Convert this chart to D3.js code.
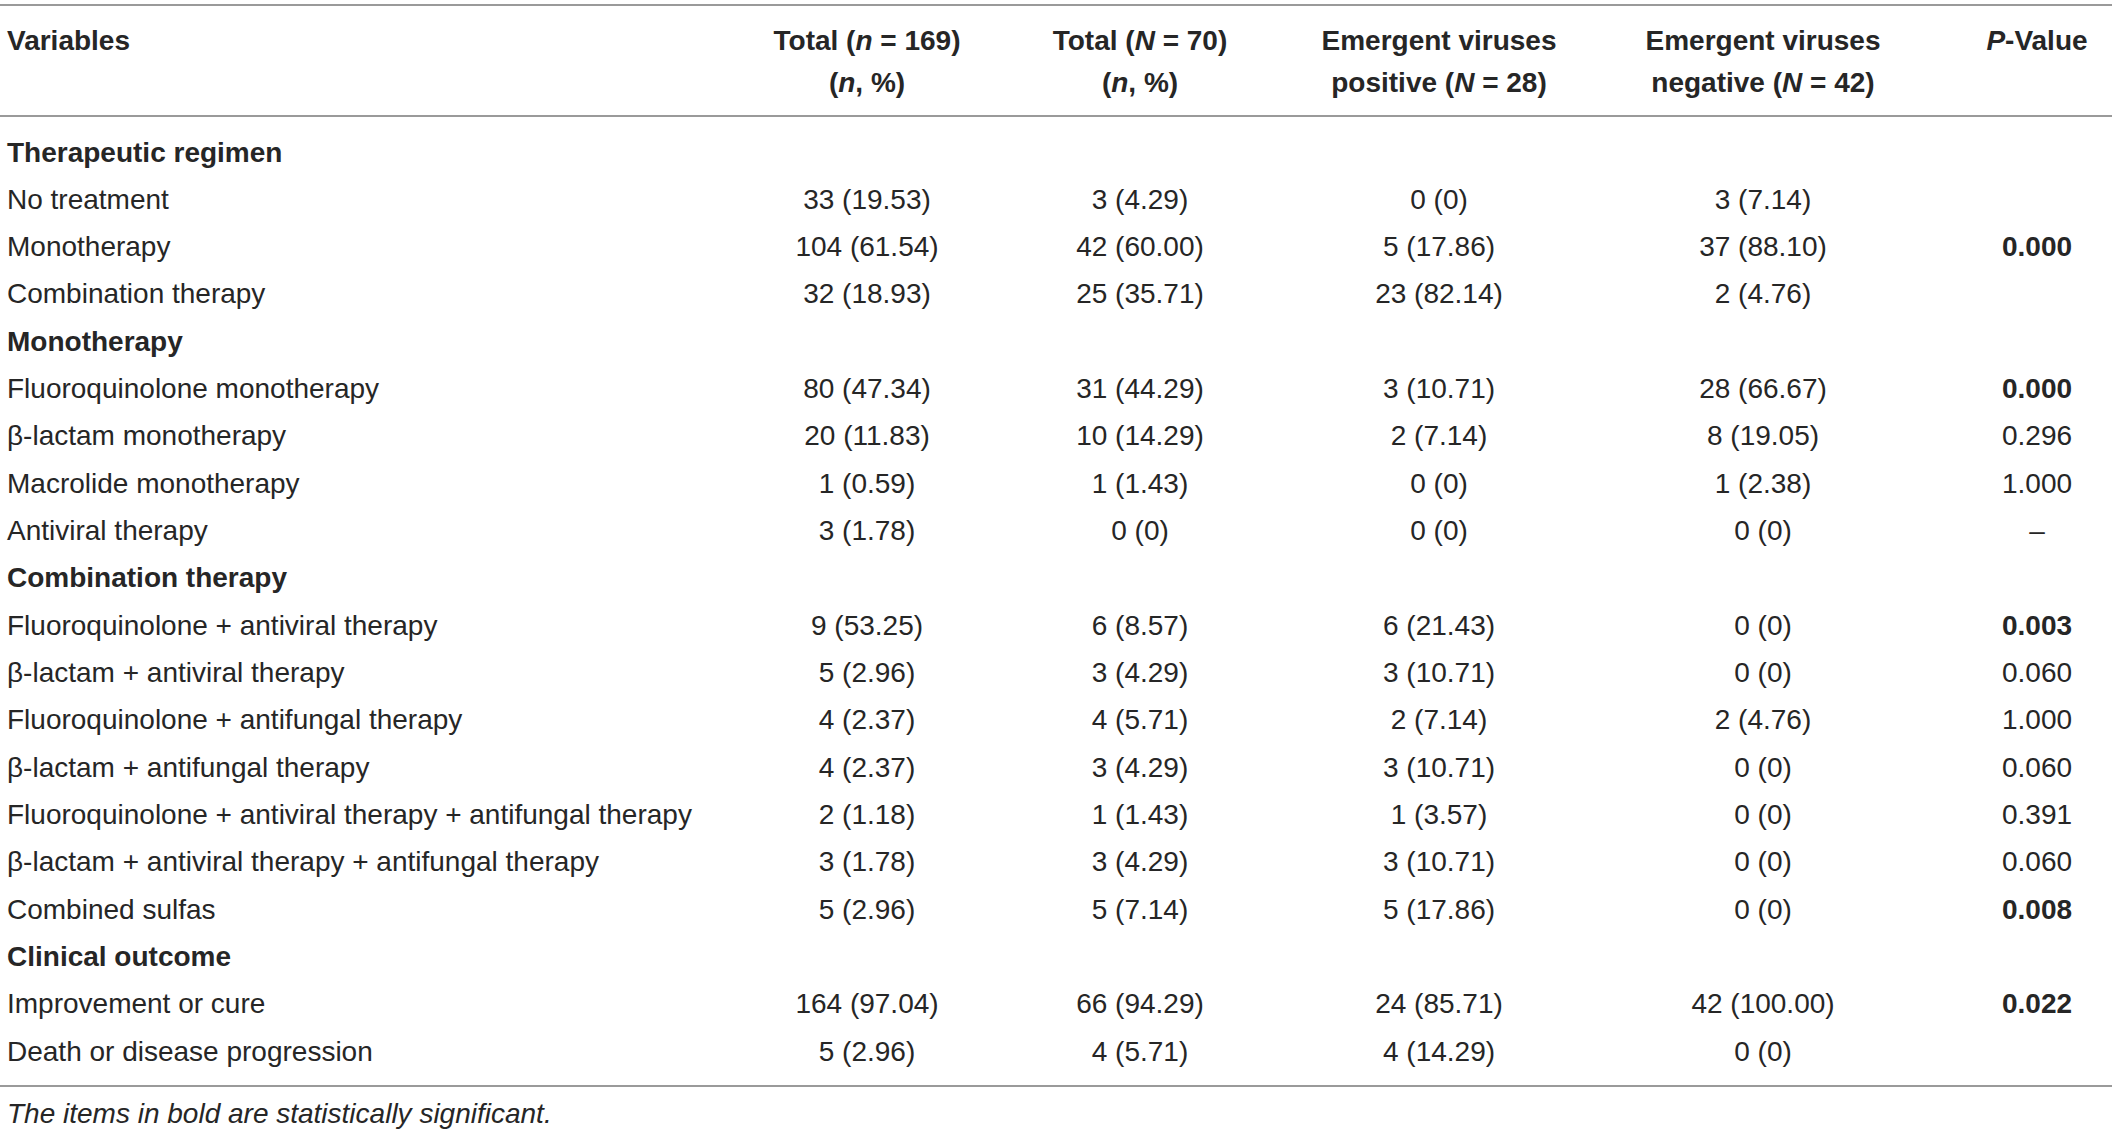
<!DOCTYPE html>
<html>
<head>
<meta charset="utf-8">
<script src="https://cdn.jsdelivr.net/npm/d3@7"></script>
<style>
  body { margin: 0; background: #fff; }
  text { font-family: "Liberation Sans", Arial, sans-serif; fill: #262626; }
</style>
</head>
<body>
<div id="table"></div>
<script>
const width = 2118;
const height = 1135;

// 表头 (每段: 文字, 是否斜体)
const headers = [
  { key: "label", lines: [[["Variables", false]], []] },
  { key: "total169", lines: [[["Total (", false], ["n", true], [" = 169)", false]], [["(", false], ["n", true], [", %)", false]]] },
  { key: "total70", lines: [[["Total (", false], ["N", true], [" = 70)", false]], [["(", false], ["n", true], [", %)", false]]] },
  { key: "positive", lines: [[["Emergent viruses", false]], [["positive (", false], ["N", true], [" = 28)", false]]] },
  { key: "negative", lines: [[["Emergent viruses", false]], [["negative (", false], ["N", true], [" = 42)", false]]] },
  { key: "pValue", lines: [[["P", true], ["-Value", false]], []] }
];

const rowLabels = [
  "Therapeutic regimen", "No treatment", "Monotherapy", "Combination therapy",
  "Monotherapy", "Fluoroquinolone monotherapy", "β-lactam monotherapy", "Macrolide monotherapy", "Antiviral therapy",
  "Combination therapy", "Fluoroquinolone + antiviral therapy", "β-lactam + antiviral therapy",
  "Fluoroquinolone + antifungal therapy", "β-lactam + antifungal therapy",
  "Fluoroquinolone + antiviral therapy + antifungal therapy", "β-lactam + antiviral therapy + antifungal therapy",
  "Combined sulfas", "Clinical outcome", "Improvement or cure", "Death or disease progression"
];
const sectionRows = [0, 4, 9, 17];

const total169 = ["", "33 (19.53)", "104 (61.54)", "32 (18.93)", "", "80 (47.34)", "20 (11.83)", "1 (0.59)", "3 (1.78)", "",
  "9 (53.25)", "5 (2.96)", "4 (2.37)", "4 (2.37)", "2 (1.18)", "3 (1.78)", "5 (2.96)", "", "164 (97.04)", "5 (2.96)"];
const total70 = ["", "3 (4.29)", "42 (60.00)", "25 (35.71)", "", "31 (44.29)", "10 (14.29)", "1 (1.43)", "0 (0)", "",
  "6 (8.57)", "3 (4.29)", "4 (5.71)", "3 (4.29)", "1 (1.43)", "3 (4.29)", "5 (7.14)", "", "66 (94.29)", "4 (5.71)"];
const positive = ["", "0 (0)", "5 (17.86)", "23 (82.14)", "", "3 (10.71)", "2 (7.14)", "0 (0)", "0 (0)", "",
  "6 (21.43)", "3 (10.71)", "2 (7.14)", "3 (10.71)", "1 (3.57)", "3 (10.71)", "5 (17.86)", "", "24 (85.71)", "4 (14.29)"];
const negative = ["", "3 (7.14)", "37 (88.10)", "2 (4.76)", "", "28 (66.67)", "8 (19.05)", "1 (2.38)", "0 (0)", "",
  "0 (0)", "0 (0)", "2 (4.76)", "0 (0)", "0 (0)", "0 (0)", "0 (0)", "", "42 (100.00)", "0 (0)"];
const pValues = ["", "", "0.000", "", "", "0.000", "0.296", "1.000", "–", "",
  "0.003", "0.060", "1.000", "0.060", "0.391", "0.060", "0.008", "", "0.022", ""];
const significant = ["0.000", "0.003", "0.008", "0.022"];

const footnote = "The items in bold are statistically significant.";

// 画布
const svg = d3.select("#table")
  .append("svg")
  .attr("width", width)
  .attr("height", height);

const fontSize = 28;

// 列位置 (文字居中, 第一列左对齐)
const colX = d3.scaleOrdinal()
  .domain(headers.map(d => d.key))
  .range([7, 867, 1140, 1439, 1763, 2037]);

// 行基线
const rowY = d3.scaleLinear()
  .domain([0, rowLabels.length - 1])
  .range([161.5, 1060.8]);

const lineX = [0, 2112];
const rules = [5, 116, 1086];

svg.selectAll("line.rule")
  .data(rules)
  .enter()
  .append("line")
  .attr("class", "rule")
  .attr("x1", lineX[0])
  .attr("x2", lineX[1])
  .attr("y1", d => d)
  .attr("y2", d => d)
  .attr("stroke", "#9a9a9a")
  .attr("stroke-width", 2);

// 表头
const headerBase = [50, 92];
headers.forEach(h => {
  h.lines.forEach((segs, li) => {
    if (!segs.length) return;
    const t = svg.append("text")
      .attr("x", colX(h.key))
      .attr("y", headerBase[li])
      .attr("font-size", fontSize)
      .attr("font-weight", "bold")
      .attr("text-anchor", h.key === "label" ? "start" : "middle");
    segs.forEach(([txt, it]) => {
      t.append("tspan").text(txt).attr("font-style", it ? "italic" : "normal");
    });
  });
});

// 行
const rows = rowLabels.map((label, i) => ({
  i, label,
  section: sectionRows.includes(i),
  total169: total169[i], total70: total70[i],
  positive: positive[i], negative: negative[i], pValue: pValues[i]
}));

svg.selectAll("text.label")
  .data(rows)
  .enter()
  .append("text")
  .attr("class", "label")
  .attr("x", colX("label"))
  .attr("y", d => rowY(d.i))
  .attr("font-size", fontSize)
  .attr("font-weight", d => d.section ? "bold" : "normal")
  .text(d => d.label);

["total169", "total70", "positive", "negative", "pValue"].forEach(key => {
  svg.selectAll("text.v-" + key)
    .data(rows.filter(d => d[key] !== ""))
    .enter()
    .append("text")
    .attr("class", "v-" + key)
    .attr("x", colX(key))
    .attr("y", d => rowY(d.i))
    .attr("font-size", fontSize)
    .attr("text-anchor", "middle")
    .attr("font-weight", d => key === "pValue" && significant.includes(d[key]) ? "bold" : "normal")
    .text(d => d[key]);
});

// 脚注
svg.append("text")
  .attr("x", 7)
  .attr("y", 1123)
  .attr("font-size", fontSize)
  .attr("font-style", "italic")
  .text(footnote);
</script>
</body>
</html>
